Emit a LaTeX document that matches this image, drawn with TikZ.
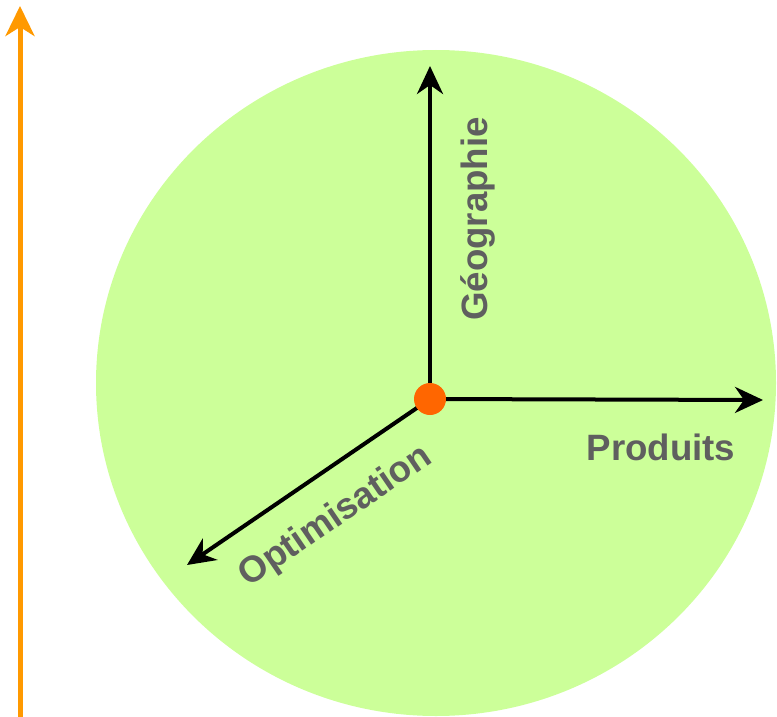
\documentclass[tikz,border=0pt]{standalone}
\usepackage{fontspec}
\setmainfont{Liberation Sans}
\usetikzlibrary{arrows.meta}
\definecolor{disc}{HTML}{CCFF99}
\definecolor{axisorange}{HTML}{FF9900}
\definecolor{dotorange}{HTML}{FF6600}
\definecolor{labelgray}{HTML}{5F5F5F}
\tikzset{
  axisline/.style={line width=4bp, -{Stealth[length=28bp,width=26bp,inset=9bp]}},
  axislabel/.style={font=\fontsize{36.8}{40}\selectfont\bfseries, text=labelgray, inner sep=0pt}
}
\begin{document}
\begin{tikzpicture}[x=1bp,y=-1bp]
\useasboundingbox (0,0) rectangle (777,717);
\fill[disc] (436,383) ellipse [x radius=340, y radius=333];
\coordinate (vtop) at (20,6);
\coordinate (vbot) at (20,717);
\draw[line width=5bp, axisorange, -{Stealth[length=30bp,width=29bp,inset=9bp]}] (vbot) -- (vtop);
\coordinate (o) at (430,399);
\coordinate (g) at (430,66);
\coordinate (p) at (763,400);
\coordinate (q) at (187,565);
\draw[axisline] (o) -- (g);
\draw[axisline] (o) -- (p);
\draw[axisline] (o) -- (q);
\node[circle, fill=dotorange, minimum size=32bp, inner sep=0pt] (dot) at (o) {};
\node[axislabel, rotate=90] (geo) at (478,219) {Géographie};
\node[axislabel] (prod) at (661,447) {Produits};
\node[axislabel, rotate=34.3] (opt) at (336,517) {Optimisation};
\end{tikzpicture}
\end{document}
